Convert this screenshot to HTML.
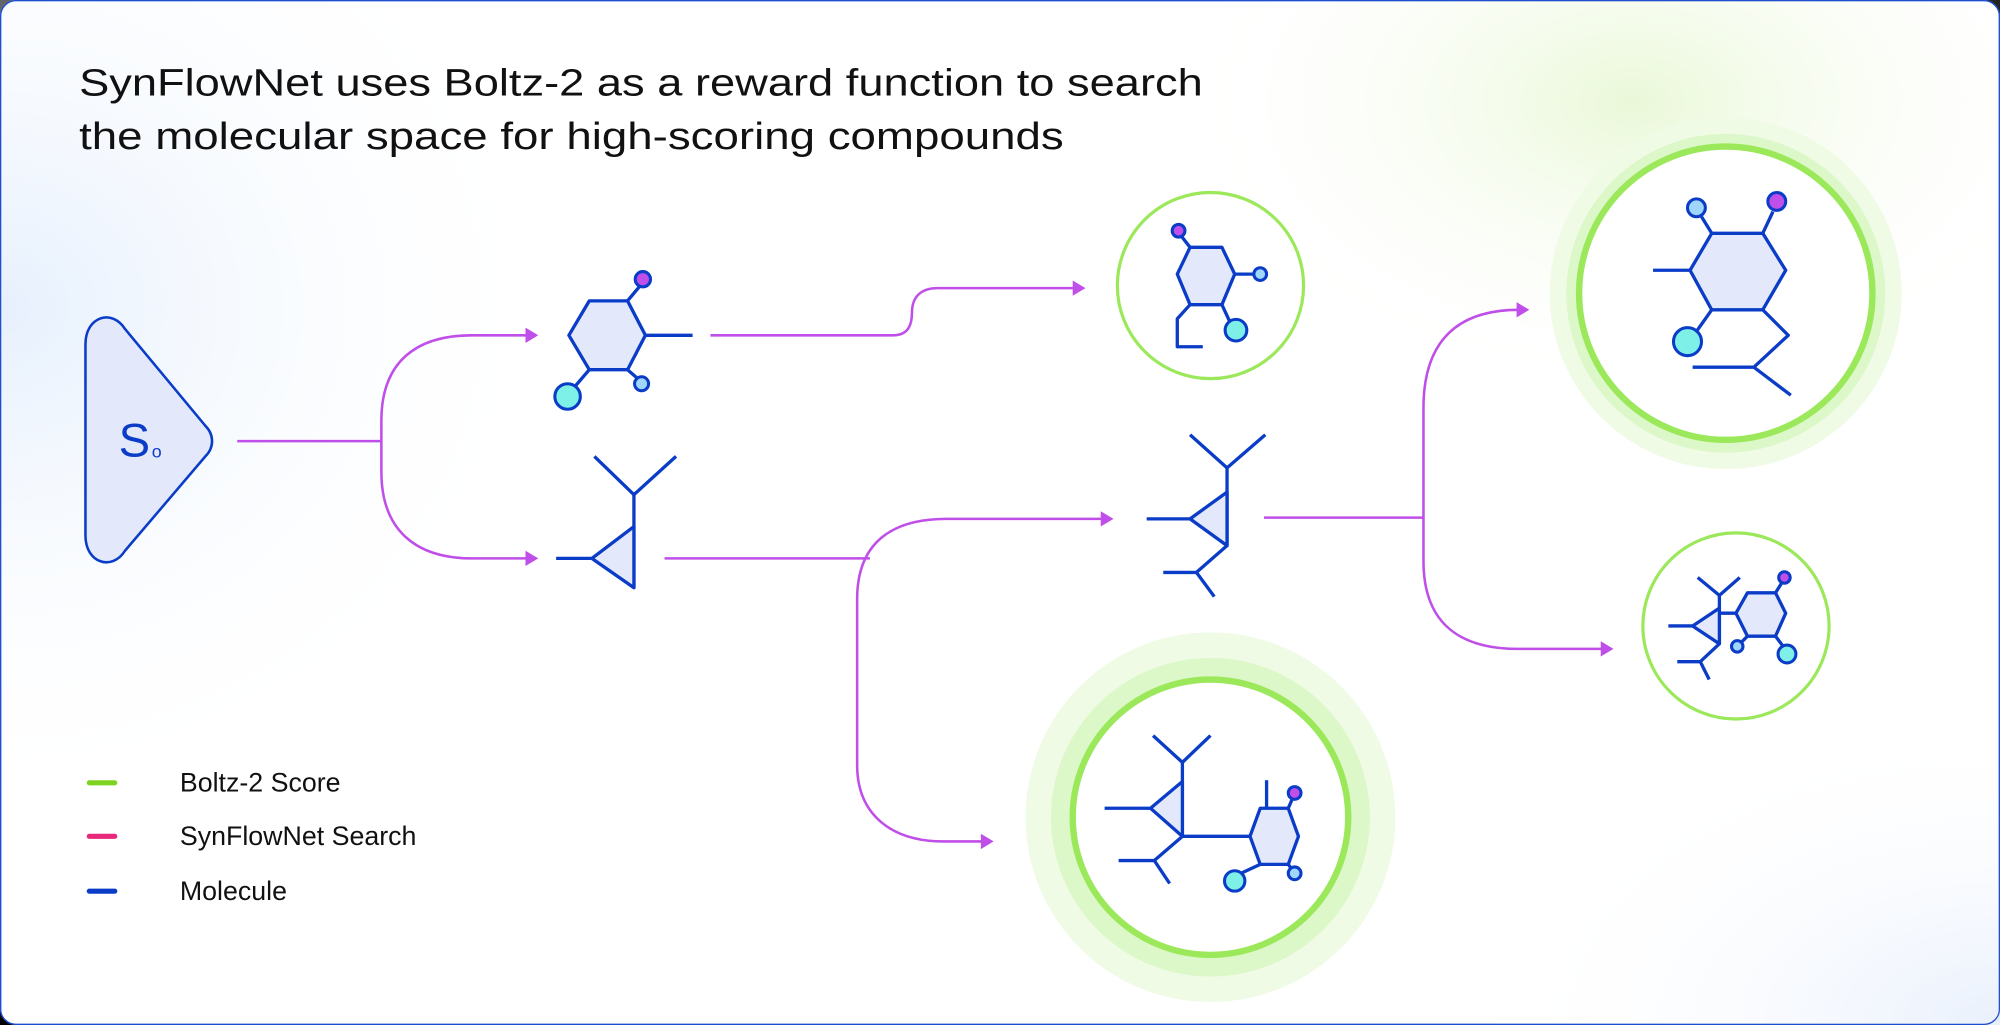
<!DOCTYPE html>
<html><head><meta charset="utf-8"><style>
html,body{margin:0;padding:0;background:#000;width:2000px;height:1025px;overflow:hidden}
svg{display:block}
</style></head><body>
<svg width="2000" height="1025" viewBox="0 0 1568 804" preserveAspectRatio="none" xmlns="http://www.w3.org/2000/svg">
<defs>
<radialGradient id="gtl" cx="0" cy="0.3" r="0.5"><stop offset="0" stop-color="#e6f0fd"/><stop offset="1" stop-color="#ffffff" stop-opacity="0"/></radialGradient>
<radialGradient id="gtr" cx="0.5" cy="0.5" r="0.5"><stop offset="0" stop-color="#eaf8d8"/><stop offset="1" stop-color="#ffffff" stop-opacity="0"/></radialGradient>
<radialGradient id="gbr" cx="1" cy="1" r="0.6"><stop offset="0" stop-color="#e9f0fc"/><stop offset="1" stop-color="#ffffff" stop-opacity="0"/></radialGradient>
</defs>
<rect x="0.5" y="0.5" width="1567" height="803" rx="12" fill="#fff" stroke="#1f4fd0" stroke-width="1"/>
<rect x="0" y="0" width="900" height="804" fill="url(#gtl)"/>
<ellipse cx="1280" cy="80" rx="360" ry="230" fill="url(#gtr)"/>
<rect x="900" y="400" width="668" height="404" fill="url(#gbr)"/>
<rect x="0.5" y="0.5" width="1567" height="803" rx="12" fill="none" stroke="#1f4fd0" stroke-width="1"/>

<g font-family="Liberation Sans, sans-serif" fill="#111">
<text x="62" y="75" font-size="30" textLength="881" lengthAdjust="spacingAndGlyphs">SynFlowNet uses Boltz-2 as a reward function to search</text>
<text x="62" y="117" font-size="30" textLength="772" lengthAdjust="spacingAndGlyphs">the molecular space for high-scoring compounds</text>
<text x="141" y="621" font-size="21">Boltz-2 Score</text>
<text x="141" y="663" font-size="21">SynFlowNet Search</text>
<text x="141" y="706" font-size="21">Molecule</text>
</g>
<g stroke-width="4" stroke-linecap="round">
<line x1="70" y1="614" x2="90" y2="614" stroke="#7ed321"/>
<line x1="70" y1="656" x2="90" y2="656" stroke="#e8287a"/>
<line x1="70" y1="699" x2="90" y2="699" stroke="#0a3cc8"/>
</g>

<!-- glows -->
<circle cx="1353" cy="230" r="138" fill="#f0fbe6"/>
<circle cx="1353" cy="230" r="125" fill="#dcf7c8"/>
<circle cx="1353" cy="230" r="115" fill="#fff" stroke="#9be85a" stroke-width="5"/>
<circle cx="949" cy="641" r="145" fill="#f0fbe6"/>
<circle cx="949" cy="641" r="125" fill="#dcf7c8"/>
<circle cx="949" cy="641" r="108" fill="#fff" stroke="#9be85a" stroke-width="5"/>
<circle cx="949" cy="224" r="73" fill="#fff" stroke="#9be85a" stroke-width="2.5"/>
<circle cx="1361" cy="491" r="73" fill="#fff" stroke="#9be85a" stroke-width="2.5"/>

<!-- purple connectors -->
<g stroke="#c04ee8" stroke-width="2" fill="none">
<line x1="186" y1="346" x2="299" y2="346"/>
<path d="M414 263 H370 C325 263 299 285 299 330 V370 C299 415 325 438 370 438 H414"/>
<path d="M557 263 H700 C712 263 715 255 715 245 C715 233 722 226 735 226 H843"/>
<line x1="521" y1="438" x2="682" y2="438"/>
<path d="M865 407 H742 C700 407 672 425 672 470 V600 C672 640 700 660 740 660 H771"/>
<line x1="991" y1="406" x2="1116" y2="406"/>
<path d="M1191 243 C1140 243 1116 270 1116 320 V440 C1116 485 1140 509 1190 509 H1257"/>
</g>
<g fill="#c04ee8">
<path d="M412 257 L422 263 L412 269Z"/><path d="M412 432 L422 438 L412 444Z"/>
<path d="M841 220 L851 226 L841 232Z"/><path d="M863 401 L873 407 L863 413Z"/>
<path d="M769 654 L779 660 L769 666Z"/><path d="M1189 237 L1199 243 L1189 249Z"/>
<path d="M1255 503 L1265 509 L1255 515Z"/>
</g>

<!-- S0 -->
<path d="M67 270 C67 248 88 242 98 258 L161 334 C168 341 168 351 161 358 L98 432 C88 448 67 442 67 420 Z" fill="#e3e9fb" stroke="#0a3cc8" stroke-width="2"/>
<text x="93" y="358" font-family="Liberation Sans, sans-serif" font-size="37" fill="#0a3cc8">S</text>
<text x="119" y="359" font-family="Liberation Sans, sans-serif" font-size="14" fill="#0a3cc8">o</text>

<g stroke="#0a3cc8" stroke-width="2.6" stroke-linejoin="round" fill="none">
<!-- mol 1 -->
<polygon points="462,236 492,236 506,263 492,290 462,290 446,263" fill="#e3e9fb"/>
<line x1="506" y1="263" x2="543" y2="263"/>
<line x1="492" y1="236" x2="502" y2="224"/><line x1="492" y1="290" x2="500" y2="297"/><line x1="462" y1="290" x2="450" y2="304"/>
<!-- mol 2 -->
<polyline points="466,358 497,388 530,358"/>
<line x1="497" y1="388" x2="497" y2="461"/>
<polygon points="464,438 497,413 497,461" fill="#e3e9fb"/>
<line x1="436" y1="438" x2="464" y2="438"/>
<!-- circle1 mol -->
<polygon points="933,194 958,194 968,215 958,239 933,239 923,215" fill="#e3e9fb"/>
<line x1="933" y1="194" x2="926" y2="185"/><line x1="968" y1="215" x2="984" y2="215"/><line x1="958" y1="239" x2="964" y2="252"/>
<polyline points="933,239 923,250 923,272 943,272"/>
<!-- middle mol -->
<polyline points="933,341 962,367 992,341"/>
<line x1="962" y1="367" x2="962" y2="428"/>
<polygon points="933,407 962,386 962,428" fill="#e3e9fb"/>
<line x1="899" y1="407" x2="933" y2="407"/>
<polyline points="962,428 938,449 952,468"/><line x1="912" y1="449" x2="938" y2="449"/>
<!-- big top right mol -->
<polygon points="1342,183 1382,183 1400,212 1382,243 1342,243 1325,212" fill="#e3e9fb"/>
<line x1="1296" y1="212" x2="1325" y2="212"/>
<line x1="1342" y1="183" x2="1334" y2="170"/><line x1="1382" y1="183" x2="1390" y2="166"/><line x1="1342" y1="243" x2="1330" y2="260"/>
<polyline points="1382,243 1402,263 1375,288 1404,310"/><line x1="1327" y1="288" x2="1375" y2="288"/>
<!-- small bottom right mol -->
<polygon points="1370,465 1392,465 1400,481 1392,499 1370,499 1361,481" fill="#e3e9fb"/>
<line x1="1348" y1="481" x2="1361" y2="481"/>
<line x1="1392" y1="465" x2="1397" y2="457"/><line x1="1392" y1="499" x2="1398" y2="507"/><line x1="1370" y1="499" x2="1365" y2="504"/>
<polyline points="1331,453 1348,467 1364,453"/>
<line x1="1348" y1="467" x2="1348" y2="505"/>
<polygon points="1327,491 1348,477 1348,505" fill="#e3e9fb"/>
<line x1="1308" y1="491" x2="1327" y2="491"/>
<polyline points="1348,505 1333,519 1340,533"/><line x1="1315" y1="519" x2="1333" y2="519"/>
<!-- bottom big mol -->
<polyline points="904,577 927,598 949,577"/>
<line x1="927" y1="598" x2="927" y2="656"/>
<polygon points="902,634 927,613 927,656" fill="#e3e9fb"/>
<line x1="866" y1="634" x2="902" y2="634"/>
<line x1="927" y1="656" x2="980" y2="656"/>
<polygon points="988,634 1010,634 1018,656 1010,678 988,678 980,656" fill="#e3e9fb"/>
<line x1="993" y1="612" x2="993" y2="634"/>
<line x1="1010" y1="634" x2="1013" y2="627"/><line x1="1010" y1="678" x2="1013" y2="682"/><line x1="988" y1="678" x2="973" y2="685"/>
<polyline points="927,656 905,675 917,693"/><line x1="877" y1="675" x2="905" y2="675"/>
</g>
<g stroke="#0a3cc8" stroke-width="2.4">
<circle cx="504" cy="219" r="6" fill="#c04ee8"/><circle cx="503" cy="301" r="5.5" fill="#9fd6fb"/><circle cx="445" cy="311" r="10" fill="#7ef0e8"/>
<circle cx="924" cy="181" r="5" fill="#c04ee8"/><circle cx="988" cy="215" r="5" fill="#9fd6fb"/><circle cx="969" cy="259" r="8.5" fill="#7ef0e8"/>
<circle cx="1330" cy="163" r="7" fill="#9fd6fb"/><circle cx="1393" cy="158" r="7" fill="#c04ee8"/><circle cx="1323" cy="268" r="11" fill="#7ef0e8"/>
<circle cx="1399" cy="453" r="4.5" fill="#c04ee8"/><circle cx="1401" cy="513" r="7" fill="#7ef0e8"/><circle cx="1362" cy="507" r="4.5" fill="#9fd6fb"/>
<circle cx="1015" cy="622" r="5" fill="#c04ee8"/><circle cx="968" cy="691" r="8" fill="#7ef0e8"/><circle cx="1015" cy="685" r="5" fill="#9fd6fb"/>
</g>
</svg>
</body></html>
